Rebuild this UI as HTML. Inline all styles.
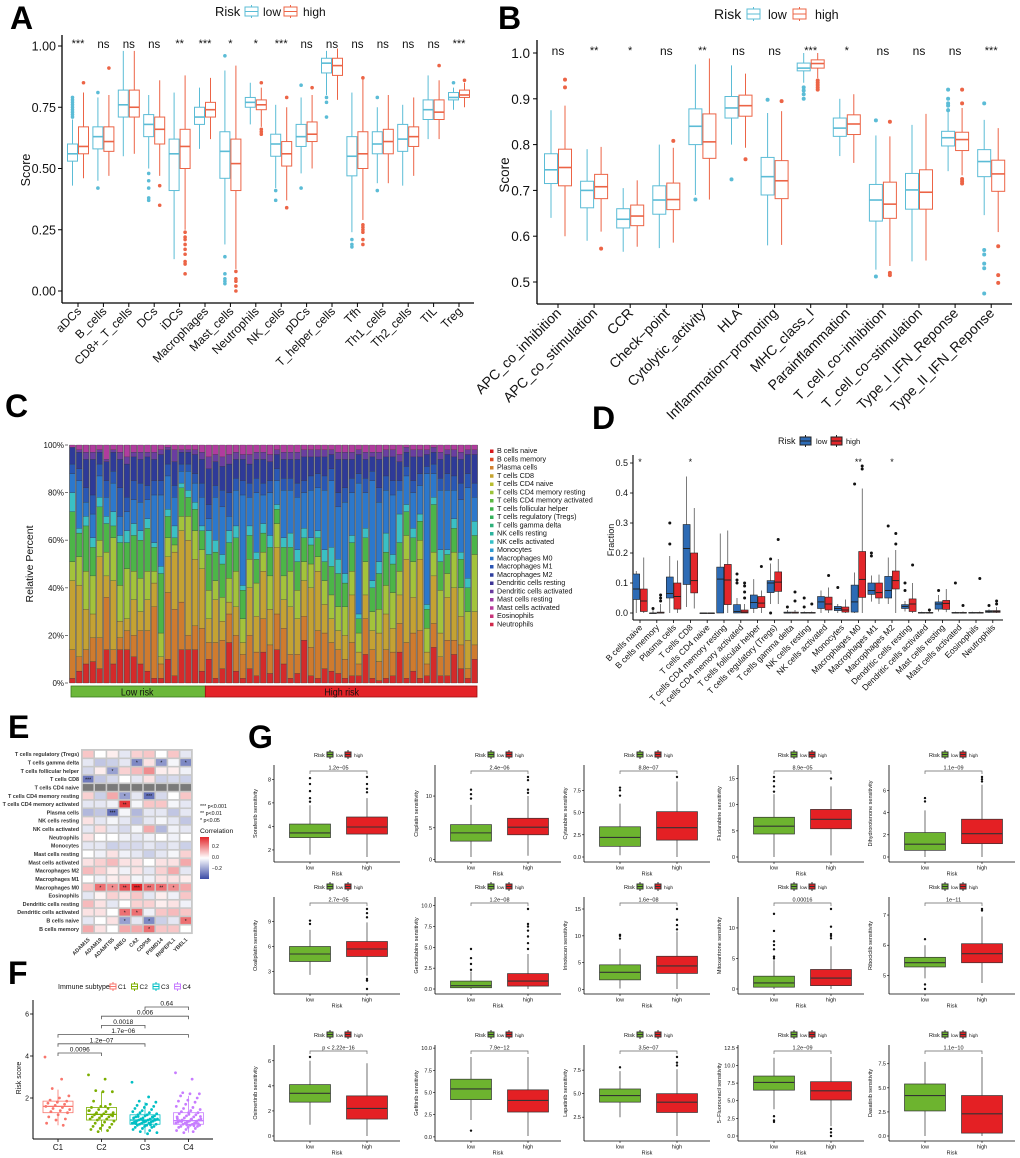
<!DOCTYPE html>
<html><head><meta charset="utf-8"><title>Immune infiltration figure</title>
<style>
body{margin:0;background:#fff;width:1020px;height:1158px;overflow:hidden}
svg{display:block;font-family:"Liberation Sans",Arial,sans-serif}
</style></head><body>
<svg id="fig" width="1020" height="1158" viewBox="0 0 1020 1158" xmlns="http://www.w3.org/2000/svg">
<defs>
<linearGradient id="corrGrad" x1="0" y1="0" x2="0" y2="1">
<stop offset="0" stop-color="#E3262A"/><stop offset="0.5" stop-color="#FFFFFF"/><stop offset="1" stop-color="#3B4BA6"/>
</linearGradient>
</defs>
<text x="10" y="29" font-size="32" font-weight="bold">A</text>
<text x="498" y="29" font-size="32" font-weight="bold">B</text>
<text x="5" y="417" font-size="32" font-weight="bold">C</text>
<text x="592" y="429" font-size="32" font-weight="bold">D</text>
<text x="8" y="738" font-size="32" font-weight="bold">E</text>
<text x="8" y="984" font-size="32" font-weight="bold">F</text>
<text x="248" y="748" font-size="32" font-weight="bold">G</text>
</svg>
<script>
// ---------- Panel A data ----------
const aCats=["aDCs","B_cells","CD8+_T_cells","DCs","iDCs","Macrophages","Mast_cells","Neutrophils","NK_cells","pDCs","T_helper_cells","Tfh","Th1_cells","Th2_cells","TIL","Treg"];
const aSig=["***","ns","ns","ns","**","***","*","*","***","ns","ns","ns","ns","ns","ns","***"];
const aLow=[[.53,.56,.60,.43,.70],[.58,.63,.67,.45,.79],[.71,.76,.82,.55,.98],[.63,.68,.72,.50,.80],[.41,.56,.62,.13,.81],[.68,.71,.75,.58,.83],[.46,.57,.65,.19,.90],[.75,.77,.79,.68,.85],[.55,.60,.64,.42,.76],[.59,.63,.68,.48,.79],[.89,.93,.95,.80,.98],[.47,.55,.63,.24,.81],[.56,.60,.65,.44,.75],[.57,.62,.68,.43,.76],[.70,.74,.78,.62,.88],[.78,.79,.81,.74,.83]];
const aHigh=[[.56,.59,.67,.46,.81],[.57,.61,.67,.47,.80],[.71,.75,.82,.56,.98],[.60,.66,.71,.47,.86],[.50,.59,.66,.25,.88],[.71,.74,.77,.62,.87],[.41,.52,.62,.09,.92],[.74,.76,.78,.67,.83],[.51,.56,.61,.37,.75],[.61,.64,.69,.50,.80],[.88,.92,.95,.78,.99],[.50,.56,.65,.29,.87],[.56,.61,.66,.44,.80],[.59,.63,.67,.47,.79],[.70,.73,.78,.62,.86],[.79,.80,.82,.75,.85]];
const aLowOut=[[.71,.72,.73,.74,.75,.76,.77,.78,.79],[.81,.42],[],[.37,.38,.42,.45,.48],[],[],[.96,.14,.07,.05,.04,.03],[],[.41,.37],[.84,.42],[.79,.77,.71],[.21,.19,.18],[.79,.41],[],[],[.85]];
const aHighOut=[[.85],[.91],[],[.43,.35],[.24,.22,.21,.19,.17,.15,.12,.11,.07],[],[.08,.05,.04,.02,0],[.66,.65,.64,.85],[.79,.34],[.83],[],[.87,.27,.26,.25,.24,.21,.19],[],[],[.92],[.86]];
const aTicks=[0,0.25,0.5,0.75,1.0];
const aTickLabels=["0.00","0.25","0.50","0.75","1.00"];
// ---------- Panel B data ----------
const bCats=["APC_co_inhibition","APC_co_stimulation","CCR","Check\u2212point","Cytolytic_activity","HLA","Inflammation\u2212promoting","MHC_class_I","Parainflammation","T_cell_co\u2212inhibition","T_cell_co\u2212stimulation","Type_I_IFN_Reponse","Type_II_IFN_Reponse"];
const bSig=["ns","**","*","ns","**","ns","ns","***","*","ns","ns","ns","***"];
const bLow=[[.715,.745,.78,.64,.875],[.662,.70,.72,.59,.79],[.618,.637,.66,.566,.705],[.648,.679,.71,.574,.80],[.80,.84,.878,.69,.975],[.858,.88,.905,.80,.973],[.69,.73,.772,.58,.869],[.961,.967,.978,.935,1.0],[.818,.836,.858,.775,.90],[.633,.679,.713,.527,.82],[.659,.701,.737,.545,.843],[.797,.815,.829,.742,.88],[.73,.763,.789,.646,.854]];
const bHigh=[[.71,.75,.79,.60,.885],[.682,.708,.735,.61,.795],[.623,.644,.668,.577,.722],[.658,.68,.716,.586,.793],[.77,.806,.867,.68,.988],[.862,.885,.908,.793,.955],[.682,.721,.765,.581,.873],[.967,.977,.985,.945,1.0],[.822,.845,.865,.76,.91],[.639,.67,.718,.535,.818],[.659,.696,.745,.547,.867],[.787,.811,.827,.733,.88],[.698,.736,.766,.609,.836]];
const bLowOut=[[],[],[],[],[.68],[.724],[.898],[.925,.918,.91,.9],[],[.853,.512],[],[.92,.9,.89,.885,.875],[.89,.57,.56,.54,.53,.475]];
const bHighOut=[[.942,.925],[.573],[],[.808],[],[.768],[.895],[.94,.935,.93,.925,.92],[],[.85,.52,.515],[],[.92,.89,.725,.72,.715],[.578,.515,.498]];
const bTicks=[0.5,0.6,0.7,0.8,0.9,1.0];
const bTickLabels=["0.5","0.6","0.7","0.8","0.9","1.0"];
// ---------- Panel C data ----------
const cLegend=["B cells naive","B cells memory","Plasma cells","T cells CD8","T cells CD4 naive","T cells CD4 memory resting","T cells CD4 memory activated","T cells follicular helper","T cells regulatory (Tregs)","T cells gamma delta","NK cells resting","NK cells activated","Monocytes","Macrophages M0","Macrophages M1","Macrophages M2","Dendritic cells resting","Dendritic cells activated","Mast cells resting","Mast cells activated","Eosinophils","Neutrophils"];
const cLegendColors=["#D7191C","#DE4A26","#D2812F","#C5A430","#B9BE30","#9CC43A","#5CB944","#3DB34A","#35B05A","#2FB07A","#2DB39E","#36C0C8","#2E9AD0","#2C74C8","#2A55B4","#2E3E9E","#3E3696","#6A3A9E","#9B3BA0","#B83A9C","#C8347A","#D0284A"];
const cGroupColors=["#D42A2A","#CF7B2E","#C4A233","#A3C33B","#4CB548","#3AC0C4","#2C78CC","#2957B5","#2E3A98","#6A3EA0","#B03C9E"];
const cSamples=[
[2,12,29,8,21,8,8,4,7,0,1],[5,6,30,12,10,2,20,5,7,1,2],[8,6,17,16,19,4,6,6,12,3,3],[9,10,10,16,12,4,10,8,15,3,3],[6,13,34,7,14,4,9,5,5,1,2],
[14,22,9,10,12,3,8,7,8,1,6],[8,6,29,18,5,6,12,5,8,1,2],[14,5,7,15,18,3,8,12,12,3,3],[14,8,5,21,11,5,8,6,14,3,5],[11,9,15,12,15,5,10,8,10,2,3],
[8,14,8,14,16,4,12,8,10,3,3],[5,17,13,12,18,4,8,6,12,2,3],[2,30,10,5,10,2,20,6,9,3,3],[2,6,3,10,25,3,30,6,11,2,2],[10,28,15,8,9,3,14,5,6,1,1],
[3,28,24,3,3,5,12,5,10,5,2],[14,20,30,6,12,2,5,3,5,1,2],[14,6,40,10,8,3,8,3,5,1,2],[14,10,28,12,9,3,8,4,8,2,2],[5,18,25,8,8,2,12,6,10,3,3],
[10,7,10,12,15,10,5,6,15,5,5],[2,15,18,8,12,5,18,5,10,3,4],[6,12,8,10,14,4,20,7,10,4,5],[17,12,5,10,15,5,6,10,12,4,4],[5,15,12,15,14,5,15,5,8,3,3],
[2,10,5,10,12,2,38,6,9,2,4],[6,14,20,12,10,4,12,6,8,4,4],[3,10,15,14,10,3,25,6,8,3,3],[13,14,20,8,8,4,12,5,10,3,3],[4,12,15,14,12,5,18,5,8,3,4],
[14,15,28,10,6,2,10,5,6,2,2],[8,15,12,10,12,4,20,5,8,3,3],[2,10,20,15,10,6,18,5,8,3,3],[4,8,15,12,12,5,22,6,10,3,3],[18,10,15,8,10,4,15,5,10,3,2],
[3,12,25,10,8,3,20,6,8,3,2],[2,20,25,6,8,3,18,6,7,3,2],[6,15,12,10,8,5,25,6,8,3,2],[5,12,10,10,12,8,28,5,6,2,2],[4,10,8,10,14,6,22,6,14,3,3],
[2,8,10,12,10,4,30,6,12,3,3],[3,14,20,10,12,3,18,6,8,3,3],[3,5,5,8,6,2,55,4,8,2,2],[12,15,10,14,10,4,15,6,8,3,3],[2,12,8,8,10,3,42,4,6,2,3],
[1,8,12,10,15,5,25,6,12,3,3],[2,12,15,12,14,8,18,6,8,3,2],[3,10,10,15,12,4,25,6,10,3,2],[13,12,12,10,12,12,10,4,8,3,4],[2,15,35,10,10,3,12,4,6,2,1],
[5,16,15,15,10,4,15,5,10,3,2],[2,20,30,8,8,3,12,5,7,3,2],[3,5,5,10,8,2,55,3,5,2,2],[15,10,20,10,20,3,10,4,5,2,1],[3,8,10,18,12,5,25,5,8,3,3],
[3,15,18,10,8,2,25,7,8,2,2],[12,6,22,15,10,4,12,6,8,3,2],[6,10,12,12,12,3,22,7,10,3,3],[2,4,12,12,10,4,38,6,8,2,2],[10,6,14,24,8,6,10,6,12,2,2]];
const cLowCount=20;
const cTicks=[0,20,40,60,80,100];
// ---------- Panel D data ----------
const dCats=["B cells naive","B cells memory","Plasma cells","T cells CD8","T cells CD4 naive","T cells CD4 memory resting","T cells CD4 memory activated","T cells follicular helper","T cells regulatory (Tregs)","T cells gamma delta","NK cells resting","NK cells activated","Monocytes","Macrophages M0","Macrophages M1","Macrophages M2","Dendritic cells resting","Dendritic cells activated","Mast cells resting","Mast cells activated","Eosinophils","Neutrophils"];
const dSig=["*","","","*","","","","","","","","","","**","","*","","","","","",""];
const dLow=[[.045,.08,.13,0,.14],[0,0,0,0,.015],[.05,.065,.12,0,.19],[.095,.215,.295,.02,.455],[0,0,0,0,0],[0,.113,.153,0,.265],[0,.005,.028,0,.05],[.015,.035,.06,0,.113],[.068,.10,.108,.03,.165],[0,0,.003,0,.01],[0,0,.002,0,.005],[.015,.037,.055,0,.075],[.008,.015,.022,0,.03],[.003,.037,.093,0,.135],[.062,.075,.10,.038,.125],[.05,.075,.122,.03,.185],[.015,.022,.028,.005,.04],[0,0,.002,0,.004],[.013,.03,.037,.005,.06],[0,0,.002,0,.004],[0,0,.002,0,.004],[.002,.005,.008,0,.012]];
const dHigh=[[.005,.04,.08,0,.185],[0,0,.003,0,.03],[.013,.055,.10,0,.175],[.067,.108,.20,.015,.35],[0,0,0,0,0],[.028,.11,.162,0,.275],[0,.003,.01,0,.03],[.018,.033,.055,0,.075],[.072,.103,.137,.03,.18],[0,0,.003,0,.01],[0,0,.002,0,.005],[.01,.03,.053,0,.085],[.003,.01,.02,0,.045],[.052,.112,.205,0,.415],[.05,.068,.10,.03,.128],[.08,.108,.14,0,.21],[.005,.03,.047,0,.10],[0,0,.002,0,.005],[.012,.032,.042,.003,.08],[0,0,.002,0,.005],[0,0,.002,0,.005],[.002,.005,.008,0,.02]];
const dLowOut=[[],[.015],[.23,.30],[],[],[],[.10,.11,.13],[],[.18,0],[.02],[.02,.05],[],[.085],[.43],[.19,.20],[.29],[.075,.10],[],[.075],[.10],[],[.025]];
const dHighOut=[[],[.06,.05,.04],[],[],[],[],[.05,.07,.09,.10],[.155],[.245],[.04,.07],[.03],[.125],[],[.48,.49],[],[.23,.265],[.16],[.01],[],[.025],[.115],[.03,.04]];
const dTicks=[0,0.1,0.2,0.3,0.4,0.5];
const dTickLabels=["0.0","0.1","0.2","0.3","0.4","0.5"];
// ---------- Panel E data ----------
const eRows=["T cells regulatory (Tregs)","T cells gamma delta","T cells follicular helper","T cells CD8","T cells CD4 naive","T cells CD4 memory resting","T cells CD4 memory activated","Plasma cells","NK cells resting","NK cells activated","Neutrophils","Monocytes","Mast cells resting","Mast cells activated","Macrophages M2","Macrophages M1","Macrophages M0","Eosinophils","Dendritic cells resting","Dendritic cells activated","B cells naive","B cells memory"];
const eCols=["ADAM15","ADAM19","ADAMTS5","AREG","CA2","CDP58","PSMD14","RNPEPL1","YBEL1"];
const eVals=[[.1,0,.03,-.05,.08,.1,0,.1,-.05],[-.05,-.12,-.1,-.05,-.25,.05,-.22,-.02,-.25],[-.08,.03,-.2,.08,.12,.2,.03,.03,-.03],[-.28,-.12,-.08,0,-.05,.05,-.1,-.08,-.1],[null,null,null,null,null,null,null,null,null],[.08,-.1,.15,-.2,-.05,-.3,-.08,0,.1],[-.05,-.05,-.03,.35,-.02,.1,.1,-.02,-.05],[-.15,-.12,-.3,-.02,-.15,-.05,-.05,-.12,-.05],[.05,-.05,-.02,-.05,-.12,-.05,-.02,-.05,-.12],[-.05,.06,-.05,-.08,-.02,.15,-.15,-.03,-.05],[.05,0,0,-.03,-.05,-.03,0,-.03,0],[-.05,-.05,-.1,-.08,-.08,-.05,-.08,-.05,-.1],[0,-.03,.05,-.03,-.05,-.1,-.05,-.02,.08],[.05,.08,.12,.05,.05,0,.05,.05,.15],[.12,.08,.03,-.03,.05,-.05,.08,.15,-.05],[0,-.03,.03,.05,-.02,-.03,.05,.05,.03],[.1,.25,.2,.3,.38,.25,.25,.2,.15],[-.05,.02,.08,.05,.1,-.05,.03,-.03,.1],[.12,.05,-.05,0,.08,.08,.03,.05,-.03],[.05,.05,0,.25,.25,-.03,.1,.12,.1],[-.05,0,.05,-.2,-.05,-.25,-.1,-.05,.25],[.15,.05,0,.15,.15,.25,.1,.1,0]];
const eStars=[["","","","","","","","",""],["","","","","*","","*","","*"],["","","*","","","","","",""],["***","","","","","","","",""],["","","","","","","","",""],["","","","*","","***","","",""],["","","","**","","","","",""],["","","***","","","","","",""],["","","","","","","","",""],["","","","","","","","",""],["","","","","","","","",""],["","","","","","","","",""],["","","","","","","","",""],["","","","","","","","",""],["","","","","","","","",""],["","","","","","","","",""],["","*","*","**","***","**","**","*",""],["","","","","","","","",""],["","","","","","","","",""],["","","","*","*","","","",""],["","","","*","","*","","","*"],["","","","","","*","","",""]];
// ---------- Panel F data ----------
const fGroups=["C1","C2","C3","C4"];
const fStats=[[1.3,1.6,1.85,0.7,2.4],[0.95,1.22,1.55,0.4,2.3],[0.75,0.95,1.2,0.3,1.8],[0.75,0.92,1.3,0.35,2.1]];
const fPoints=[
[3.95,2.9,2.45,2.1,2.0,1.9,1.85,1.8,1.75,1.7,1.65,1.6,1.55,1.5,1.45,1.4,1.35,1.3,1.2,1.1,1.0,0.95,0.8,0.7],
[3.1,2.9,2.35,2.3,2.3,1.85,1.7,1.6,1.55,1.5,1.45,1.4,1.35,1.3,1.3,1.25,1.2,1.2,1.15,1.1,1.1,1.05,1.0,1.0,0.95,0.9,0.85,0.8,0.75,0.7,0.65,0.6,0.55,0.5,0.45,0.4,1.4,1.6,1.25,1.15],
[2.75,2.05,1.85,1.8,1.7,1.65,1.6,1.55,1.5,1.45,1.4,1.35,1.3,1.3,1.25,1.2,1.2,1.15,1.15,1.1,1.1,1.05,1.05,1.0,1.0,1.0,0.95,0.95,0.95,0.9,0.9,0.9,0.85,0.85,0.85,0.8,0.8,0.8,0.75,0.75,0.7,0.7,0.65,0.65,0.6,0.6,0.55,0.5,0.45,0.4,0.35,0.3,1.12,0.98,0.88,0.78,1.08,0.92,0.82,0.72],
[3.2,2.9,2.25,2.2,2.2,2.1,2.0,1.9,1.85,1.8,1.7,1.6,1.55,1.5,1.45,1.4,1.35,1.3,1.3,1.25,1.2,1.15,1.1,1.1,1.05,1.0,1.0,0.95,0.95,0.9,0.9,0.9,0.85,0.85,0.8,0.8,0.8,0.75,0.75,0.7,0.7,0.65,0.65,0.6,0.6,0.55,0.5,0.45,0.4,0.35,1.12,0.98,0.88,0.78,1.22,0.92,0.83,0.72,1.02,0.68]];
const fBrackets=[[2,3,"0.64"],[1,3,"0.006"],[1,2,"0.0018"],[0,3,"1.7e\u221206"],[0,2,"1.2e\u221207"],[0,1,"0.0096"]];
const fTicks=[2,4,6];
const fColors=["#F8766D","#7CAE00","#00BFC4","#C77CFF"];
// ---------- Panel G data ----------
const gDrugs=["Sorafenib","Cisplatin","Cytarabine","Fludarabine","Dihydrorotenone","Oxaliplatin","Gemcitabine","Irinotecan","Mitoxantrone","Ribociclib","Osimertinib","Gefitinib","Lapatinib","5\u2212Fluorouracil","Dasatinib"];
const gP=["1.2e\u221205","2.4e\u221206","8.8e\u221207","8.9e\u221205","1.1e\u221209","2.7e\u221205","1.2e\u221208","1.6e\u221208","0.00016","1e\u221211","p < 2.22e\u221216","7.9e\u221212","3.5e\u221207","1.2e\u221209","1.1e\u221210"];
const gTicks=[[2,4,6,8],[0,5,10],[0,2.5,5,7.5],[0,5,10,15],[0,2,4,6],[3,6,9],[0,2.5,5,7.5,10],[0,5,10,15],[0,5,10],[5,6,7],[0,2,4,6],[0,2.5,5,7.5,10],[2.5,5,7.5],[0,2.5,5,7.5,10,12.5],[0,2.5,5,7.5]];
const gTickLabels=[["2","4","6","8"],["0","5","10"],["0.0","2.5","5.0","7.5"],["0","5","10","15"],["0","2","4","6"],["3","6","9"],["0.0","2.5","5.0","7.5","10.0"],["0","5","10","15"],["0","5","10"],["5","6","7"],["0","2","4","6"],["0.0","2.5","5.0","7.5","10.0"],["2.5","5.0","7.5"],["0.0","2.5","5.0","7.5","10.0","12.5"],["0.0","2.5","5.0","7.5"]];
const gLow=[[3.05,3.45,4.2,1.6,5.8],[2.9,4.2,5.5,0.4,8.6],[1.2,2.2,3.4,0.2,6.0],[4.4,5.9,7.6,0,12],[0.6,1.15,2.2,0,4.2],[4.2,5.1,6.0,2.6,8.0],[0.15,0.4,0.95,0,2.1],[1.8,3.2,4.6,0.2,7.6],[0.3,1.0,2.1,0,4.7],[5.28,5.42,5.6,4.9,6.0],[2.7,3.4,4.1,0.9,6.0],[4.2,5.4,6.5,1.9,9.0],[4.1,4.8,5.5,2.5,7.4],[6.5,7.6,8.5,3.8,11.1],[2.6,4.2,5.4,0,7.7]];
const gHigh=[[3.35,3.95,4.8,1.4,6.4],[3.9,5.1,6.5,0.6,10],[1.9,3.3,5.1,0,8.5],[5.4,7.2,9.1,0.3,13.5],[1.2,2.1,3.4,0,6.5],[4.8,5.7,6.6,2.5,8.9],[0.35,0.95,1.85,0,4.2],[3.0,4.4,6.2,0.1,10.8],[0.55,1.8,3.2,0,7.0],[5.42,5.72,6.05,4.75,6.95],[1.35,2.2,3.2,0,5.8],[2.8,4.1,5.3,0.1,9.0],[3.0,4.1,5.0,0.5,7.6],[5.1,6.4,7.7,1.4,11.2],[0.3,2.3,4.2,0,8.2]];
const gLowOut=[[6.1,6.4,7.0,7.6,8.1],[9.6,10.3,11],[6.9,7.5,7.8],[12.5,13.5,14.5,15.3],[5.0,5.3],[8.7,9.1],[2.3,3.0,3.7,4.8],[9.5,10,10.2],[5.0,5.3,6.5,7.2,7.8,9.5,12.3],[6.2,4.7,4.55],[6.3],[0.7],[7.8],[2.0,2.2,2.8],[]];
const gHighOut=[[6.9,7.2,7.6,8.2],[10.5,11,12.5,13],[9.0],[15],[6.8,7.0,7.2],[0.9,1.9,2.1,9.5,10,10.5],[4.8,5.5,6.3,7.0,7.5,7.8,9.6],[11.2,12,13,15],[8.3,8.7,9,10.2,13.1],[7.15,7.2],[],[],[8.0,8.3,8.9],[0,0.5,1.0],[]];

// ---------- helpers ----------
const NS='http://www.w3.org/2000/svg';
const svg=document.getElementById('fig');
function add(p,tag,a,txt){const e=document.createElementNS(NS,tag);for(const k in a)e.setAttribute(k,a[k]);if(txt!==undefined)e.textContent=txt;p.appendChild(e);return e;}
function grp(name){const g=add(svg,'g',{});


return g;}
function drawBox(g,cx,w,s,y,stroke,fill,lw,name){
  const w1=add(g,'line',{x1:cx,x2:cx,y1:y(s[3]),y2:y(s[0]),stroke:stroke,'stroke-width':lw});
  
  
  const w2=add(g,'line',{x1:cx,x2:cx,y1:y(s[2]),y2:y(s[4]),stroke:stroke,'stroke-width':lw});
  
  
  const r=add(g,'rect',{x:cx-w/2,y:y(s[2]),width:w,height:Math.max(0.6,y(s[0])-y(s[2])),fill:fill,stroke:stroke,'stroke-width':lw});
  
  
  const m=add(g,'line',{x1:cx-w/2,x2:cx+w/2,y1:y(s[1]),y2:y(s[1]),stroke:stroke,'stroke-width':lw*1.6});
  
  
}
function drawOut(g,cx,vals,y,col,r,name){
  vals.forEach(v=>{const c=add(g,'circle',{cx:cx,cy:y(v),r:r,fill:col});
  
  });
}
function txt(g,x,y,s,size,extra,name){const t=add(g,'text',Object.assign({x:x,y:y,'font-size':size,fill:'#111'},extra||{}),s);


return t;}
function line(g,x1,y1,x2,y2,col,w,name){const l=add(g,'line',{x1:x1,y1:y1,x2:x2,y2:y2,stroke:col,'stroke-width':w});


return l;}
function legendKey(g,x,y,w,h,stroke,fill,name){
  const r=add(g,'rect',{x:x,y:y,width:w,height:h,fill:fill,stroke:stroke,'stroke-width':1});
  
  
  line(g,x,y+h/2,x+w,y+h/2,stroke,1,name+'-median');
  line(g,x+w/2,y-2,x+w/2,y,stroke,1,name+'-whisker');
  line(g,x+w/2,y+h,x+w/2,y+h+2,stroke,1,name+'-whisker');
}

// ---------- Panel A ----------
(function(){
 const g=grp('panel-a-chart');
 const LOW='#5BBCD6',HIGH='#EC6446';
 const yA=v=>291-v*245; const xA=i=>78+i*25.4;
 line(g,62,35,62,303,'#000',1.3,'y-axis');
 line(g,62,303,474,303,'#000',1.3,'x-axis');
 aTicks.forEach((t,i)=>{line(g,58,yA(t),62,yA(t),'#000',1,'y-tick');txt(g,56,yA(t)+4.5,aTickLabels[i],12.5,{'text-anchor':'end'},'y-tick-label');});
 const yl=txt(g,30,170,'Score',12.5,{'text-anchor':'middle',transform:'rotate(-90 30 170)'},'y-axis-title');
 aCats.forEach((c,i)=>{
  const cx=xA(i);
  line(g,cx,303,cx,307,'#000',1,'x-tick');
  txt(g,cx+4,312,c,12,{'text-anchor':'end',transform:'rotate(-45 '+(cx+4)+' 312)'},'x-tick-label');
  drawBox(g,cx-5.5,10,aLow[i],yA,LOW,'none',1,'box-low-'+c);
  drawBox(g,cx+5.5,10,aHigh[i],yA,HIGH,'none',1,'box-high-'+c);
  drawOut(g,cx-5.5,aLowOut[i],yA,LOW,1.8,'low-'+c);
  drawOut(g,cx+5.5,aHighOut[i],yA,HIGH,1.8,'high-'+c);
  txt(g,cx,aSig[i]==='ns'?48:47,aSig[i],aSig[i]==='ns'?11.5:11,{'text-anchor':'middle'},'significance-label');
 });
 txt(g,215,16,'Risk',13,{},'legend-title');
 legendKey(g,245,7,13,9,LOW,'none','legend-key-low');
 txt(g,263,16,'low',12,{},'legend-label-low');
 legendKey(g,284,7,13,9,HIGH,'none','legend-key-high');
 txt(g,303,16,'high',12,{},'legend-label-high');
})();

// ---------- Panel B ----------
(function(){
 const g=grp('panel-b-chart');
 const LOW='#5BBCD6',HIGH='#EC6446';
 const yB=v=>53+(1-v)*458; const xB=i=>558+i*36.1;
 line(g,537,40,537,304,'#000',1.3,'y-axis');
 line(g,537,304,1012,304,'#000',1.3,'x-axis');
 bTicks.forEach((t,i)=>{line(g,533,yB(t),537,yB(t),'#000',1,'y-tick');txt(g,530,yB(t)+5,bTickLabels[i],13.5,{'text-anchor':'end'},'y-tick-label');});
 txt(g,509,175,'Score',13.5,{'text-anchor':'middle',transform:'rotate(-90 509 175)'},'y-axis-title');
 bCats.forEach((c,i)=>{
  const cx=xB(i);
  line(g,cx,304,cx,308,'#000',1,'x-tick');
  txt(g,cx+4,314,c,14,{'text-anchor':'end',transform:'rotate(-45 '+(cx+4)+' 314)'},'x-tick-label');
  drawBox(g,cx-7,13,bLow[i],yB,LOW,'none',1,'box-low-'+c);
  drawBox(g,cx+7,13,bHigh[i],yB,HIGH,'none',1,'box-high-'+c);
  drawOut(g,cx-7,bLowOut[i],yB,LOW,2,'low-'+c);
  drawOut(g,cx+7,bHighOut[i],yB,HIGH,2,'high-'+c);
  txt(g,cx,bSig[i]==='ns'?55:54,bSig[i],bSig[i]==='ns'?12:11,{'text-anchor':'middle'},'significance-label');
 });
 txt(g,714,19,'Risk',14,{},'legend-title');
 legendKey(g,747,9,13,10,LOW,'none','legend-key-low');
 txt(g,768,19,'low',12.5,{},'legend-label-low');
 legendKey(g,793,9,13,10,HIGH,'none','legend-key-high');
 txt(g,815,19,'high',12.5,{},'legend-label-high');
})();

// ---------- Panel C ----------
(function(){
 const g=grp('panel-c-chart');
 const X0=69,X1=478,Y0=683,H=238;
 const yC=p=>Y0-p/100*H;
 const bg=add(g,'rect',{x:X0,y:Y0-H,width:X1-X0,height:H,fill:'#8e8e8e'});
 
 
 cTicks.forEach(t=>{txt(g,64,yC(t)+3,t+'%',8,{'text-anchor':'end'},'y-tick-label');line(g,65,yC(t),68,yC(t),'#555',0.8,'y-tick');});
 txt(g,33,564,'Relative Percent',10.5,{'text-anchor':'middle',transform:'rotate(-90 33 564)'},'y-axis-title');
 const bw=(X1-X0)/cSamples.length;
 cSamples.forEach((s,i)=>{
  const tot=s.reduce((a,b)=>a+b,0); let acc=0;
  s.forEach((v,k)=>{
   const p0=acc/tot*100, p1=(acc+v)/tot*100; acc+=v;
   const r=add(g,'rect',{x:X0+i*bw+0.6,y:yC(p1),width:bw-1.2,height:yC(p0)-yC(p1),fill:cGroupColors[k],stroke:'#333','stroke-width':0.25});
   
   
  });
 });
 cLegend.forEach((n,i)=>{
  const y=453+i*8.25;
  const r=add(g,'rect',{x:490,y:y-3.5,width:3.5,height:3.5,fill:cLegendColors[i]});
  
  
  txt(g,497,y,n,7.2,{},'legend-entry');
 });
 const lowW=cLowCount*bw;
 const rl=add(g,'rect',{x:71,y:686,width:lowW-2,height:11,fill:'#6CB83A',stroke:'#3B7A1E','stroke-width':0.8});
 
 
 const rh=add(g,'rect',{x:69+lowW,y:686,width:X1-1-(69+lowW),height:11,fill:'#E42328',stroke:'#9B1010','stroke-width':0.8});
 
 
 txt(g,69+lowW/2,695.5,'Low risk',10.5,{'text-anchor':'middle',transform:'scale(0.85,1)',x:(69+lowW/2)/0.85},'low-risk-label');
 txt(g,(69+lowW+X1)/2,695.5,'High risk',10.5,{'text-anchor':'middle',transform:'scale(0.85,1)',x:((69+lowW+X1)/2)/0.85},'high-risk-label');
})();

// ---------- Panel D ----------
(function(){
 const g=grp('panel-d-chart');
 const LOW='#2D6BB5',HIGH='#E3262A';
 const yD=v=>613-v*300; const xD=i=>640+i*16.8;
 line(g,633,455,633,620,'#000',1.1,'y-axis');
 line(g,633,620,1003,620,'#000',1.1,'x-axis');
 dTicks.forEach((t,i)=>{line(g,630,yD(t),633,yD(t),'#000',0.8,'y-tick');txt(g,628,yD(t)+3,dTickLabels[i],9,{'text-anchor':'end'},'y-tick-label');});
 txt(g,614,540,'Fraction',9,{'text-anchor':'middle',transform:'rotate(-90 614 540)'},'y-axis-title');
 dCats.forEach((c,i)=>{
  const cx=xD(i);
  line(g,cx,620,cx,623,'#000',0.8,'x-tick');
  txt(g,cx+3,628,c,8.5,{'text-anchor':'end',transform:'rotate(-45 '+(cx+3)+' 628)'},'x-tick-label');
  drawBox(g,cx-3.8,7,dLow[i],yD,'#222',LOW,0.6,'box-low-'+c);
  drawBox(g,cx+3.8,7,dHigh[i],yD,'#222',HIGH,0.6,'box-high-'+c);
  drawOut(g,cx-3.8,dLowOut[i],yD,'#111',1.5,'low-'+c);
  drawOut(g,cx+3.8,dHighOut[i],yD,'#111',1.5,'high-'+c);
  if(dSig[i])txt(g,cx,465,dSig[i],9,{'text-anchor':'middle'},'significance-label');
 });
 txt(g,778,444,'Risk',9,{},'legend-title');
 legendKey(g,800,437,11,8,'#222',LOW,'legend-key-low');
 txt(g,816,444,'low',7.5,{},'legend-label-low');
 legendKey(g,831,437,11,8,'#222',HIGH,'legend-key-high');
 txt(g,846,444,'high',7.5,{},'legend-label-high');
})();

// ---------- Panel E ----------
(function(){
 const g=grp('panel-e-heatmap');
 const x0=82,y0=750,cw=12.2,rh=8.32;
 function col(v){
  if(v===null)return '#7a7a7a';
  const t=Math.max(-1,Math.min(1,v/0.38));
  const W=[255,255,255],R=[227,38,42],B=[59,75,166];
  const E=t>=0?R:B,a=Math.abs(t);
  return 'rgb('+W.map((w,k)=>Math.round(w+(E[k]-w)*a)).join(',')+')';
 }
 const bgr=add(g,'rect',{x:x0-1,y:y0-1,width:cw*9+2,height:rh*22+2,fill:'#c8c8c8'});
 
 
 eRows.forEach((r,i)=>{
  txt(g,79,y0+i*rh+rh/2+2,r,5.4,{'text-anchor':'end','font-weight':'bold',fill:'#333'},'row-label');
  eCols.forEach((c,j)=>{
   const cell=add(g,'rect',{x:x0+j*cw+0.8,y:y0+i*rh+0.8,width:cw-1.6,height:rh-1.6,fill:col(eVals[i][j])});
   
   
   if(eStars[i][j])txt(g,x0+j*cw+cw/2,y0+i*rh+rh/2+2.2,eStars[i][j],5,{'text-anchor':'middle'},'cell-star');
  });
 });
 eCols.forEach((c,j)=>{const cx=x0+j*cw+cw/2;txt(g,cx+2,940,c,5.4,{'text-anchor':'end','font-weight':'bold',fill:'#333',transform:'rotate(-45 '+(cx+2)+' 940)'},'column-label');});
 txt(g,200,808,'***  p<0.001',5.3,{},'legend-p001');
 txt(g,200,815,' **  p<0.01',5.3,{},'legend-p01');
 txt(g,200,822,'   *  p<0.05',5.3,{},'legend-p05');
 txt(g,200,833,'Correlation',6.8,{},'colorbar-title');
 const cb=add(g,'rect',{x:200,y:837,width:9,height:42,fill:'url(#corrGrad)'});
 
 
 txt(g,212,848,'0.2',5,{},'colorbar-label');
 txt(g,212,859,'0.0',5,{},'colorbar-label');
 txt(g,212,870,'\u22120.2',5,{},'colorbar-label');
})();

// ---------- Panel F ----------
(function(){
 const g=grp('panel-f-chart');
 const yF=v=>1140-v*21; const xF=i=>58+i*43.5;
 line(g,33,1000,33,1139,'#000',1,'y-axis');
 line(g,33,1139,213,1139,'#000',1,'x-axis');
 fTicks.forEach(t=>{line(g,30,yF(t),33,yF(t),'#000',0.8,'y-tick');txt(g,29,yF(t)+2.5,String(t),7,{'text-anchor':'end'},'y-tick-label');});
 txt(g,21,1078,'Risk score',7,{'text-anchor':'middle',transform:'rotate(-90 21 1078)'},'y-axis-title');
 fGroups.forEach((n,i)=>{
  const cx=xF(i);
  line(g,cx,1139,cx,1142,'#000',0.8,'x-tick');
  txt(g,cx,1150,n,8,{'text-anchor':'middle'},'x-tick-label');
  drawBox(g,cx,30,fStats[i],yF,fColors[i],'none',0.8,'box-'+n);
  fPoints[i].forEach((v,k)=>{
   const jx=(((k*7919)%97)/97-0.5)*26;
   const c=add(g,'circle',{cx:cx+jx,cy:yF(v),r:1.4,fill:fColors[i]});
   
   
  });
 });
 fBrackets.forEach((b,k)=>{
  const y=1007+k*9.2, x1=xF(b[0]), x2=xF(b[1]);
  const p=add(g,'path',{d:'M'+x1+' '+(y+3)+'V'+y+'H'+x2+'V'+(y+3),fill:'none',stroke:'#555','stroke-width':0.8});
  
  
  txt(g,(x1+x2)/2,y-1.5,b[2],6.5,{'text-anchor':'middle'},'p-value-label');
 });
 txt(g,58,989,'Immune subtype',7,{},'legend-title');
 fGroups.forEach((n,i)=>{
  const x=110+i*21.5;
  legendKey(g,x,984,6,5,fColors[i],'none','legend-key-'+n);
  txt(g,x+8,989,n,6.5,{},'legend-label-'+n);
 });
})();

// ---------- Panel G ----------
(function(){
 const LOW='#6DB42F',HIGH='#E42024';
 const colLeft=[274,435,584,738,889], rowLeg=[755,887,1035], rowAxis=[862,994,1141];
 gDrugs.forEach((d,idx)=>{
  const r=Math.floor(idx/5), c=idx%5;
  const g=grp('panel-g-'+d.toLowerCase()+'-chart');
  const L=colLeft[c], R=L+126, leg=rowLeg[r], ax=rowAxis[r];
  const all=gLow[idx].concat(gHigh[idx],gLowOut[idx],gHighOut[idx]);
  const lo=Math.min.apply(null,all), hi=Math.max.apply(null,all);
  const top=leg+22, bot=ax-5;
  const y=v=>bot-(v-lo)/(hi-lo)*(bot-top);
  line(g,L,leg+10,L,ax,'#000',0.8,'y-axis');
  line(g,L,ax,R,ax,'#000',0.8,'x-axis');
  gTicks[idx].forEach((t,k)=>{line(g,L-2,y(t),L,y(t),'#000',0.6,'y-tick');txt(g,L-3,y(t)+2,gTickLabels[idx][k],5.5,{'text-anchor':'end'},'y-tick-label');});
  const yc=(leg+10+ax)/2;
  txt(g,L-17,yc,d+' sensitivity',5.5,{'text-anchor':'middle',transform:'rotate(-90 '+(L-17)+' '+yc+')'},'y-axis-title');
  const xl=L+36, xh=L+93;
  drawBox(g,xl,41,gLow[idx],y,'#333',LOW,0.7,'box-low');
  drawBox(g,xh,41,gHigh[idx],y,'#333',HIGH,0.7,'box-high');
  drawOut(g,xl,gLowOut[idx],y,'#111',1.2,'low');
  drawOut(g,xh,gHighOut[idx],y,'#111',1.2,'high');
  const by=leg+16;
  const p=add(g,'path',{d:'M'+xl+' '+(by+3)+'V'+by+'H'+xh+'V'+(by+3),fill:'none',stroke:'#666','stroke-width':0.7});
  
  
  txt(g,(xl+xh)/2,by-1.5,gP[idx],5.5,{'text-anchor':'middle'},'p-value-label');
  line(g,xl,ax,xl,ax+2,'#000',0.6,'x-tick');
  line(g,xh,ax,xh,ax+2,'#000',0.6,'x-tick');
  txt(g,xl,ax+7.5,'low',5.5,{'text-anchor':'middle'},'x-tick-label');
  txt(g,xh,ax+7.5,'high',5.5,{'text-anchor':'middle'},'x-tick-label');
  txt(g,(L+R)/2,ax+13.5,'Risk',5.5,{'text-anchor':'middle'},'x-axis-title');
  const lx=L+40;
  txt(g,lx,leg+2,'Risk',5.5,{},'legend-title');
  legendKey(g,lx+13,leg-3,6,5,'#333',LOW,'legend-key-low');
  txt(g,lx+22,leg+2,'low',4.8,{},'legend-label-low');
  legendKey(g,lx+31,leg-3,6,5,'#333',HIGH,'legend-key-high');
  txt(g,lx+40,leg+2,'high',4.8,{},'legend-label-high');
 });
})();
</script>
</body></html>
